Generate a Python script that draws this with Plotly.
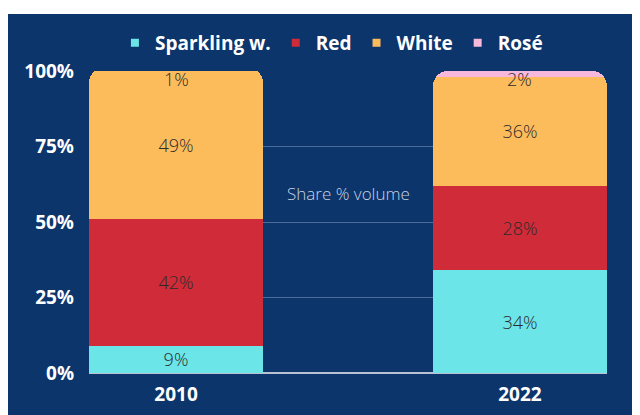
import plotly.graph_objects as go

years = ["2010", "2022"]
series_names = ["Sparkling w.", "Red", "White", "Rosé"]
sparkling = [9, 34]
red = [42, 28]
white = [49, 36]
rose = [1, 2]
y_ticks = [0, 25, 50, 75, 100]
y_tick_labels = ["0%", "25%", "50%", "75%", "100%"]

colors = ["#6be5e8", "#d02b38", "#fdbc5c", "#f7b8dc"]
values = [sparkling, red, white, rose]

BG = "#0c356b"
FONT = "Open Sans"
LABEL_FONT = dict(family=FONT, size=18, color="#2b2b2b", weight=300)

fig = go.Figure()
for name, vals, col in zip(series_names, values, colors):
    show_text = name != "Rosé"
    fig.add_trace(go.Bar(
        x=years, y=vals, name=name, marker=dict(color=col, line=dict(width=0)),
        text=[f"{v}%" for v in vals] if show_text else None,
        textposition="inside" if show_text else "none",
        insidetextanchor="middle", textangle=0,
        textfont=LABEL_FONT, constraintext="none",
        showlegend=False, hoverinfo="skip",
    ))
    fig.add_trace(go.Scatter(
        x=[years[0]], y=[None], mode="markers", name=name,
        marker=dict(symbol="square", size=8, color=col),
        showlegend=True, hoverinfo="skip",
    ))

for i, v in enumerate(rose):
    fig.add_annotation(x=i, xref="x", y=100, yref="y", yanchor="top", yshift=6, text=f"{v}%",
                       showarrow=False, font=LABEL_FONT)

fig.add_annotation(x=0.5, xref="x domain", y=0.593, yref="y domain", text="Share % volume",
                   showarrow=False, font=dict(family=FONT, size=17, color="#c9d2e2", weight=300))

fig.add_shape(type="rect", xref="paper", yref="paper", x0=-0.1564, x1=1.3, y0=-0.4, y1=1.1887,
              fillcolor=BG, line=dict(width=0), layer="below")

fig.update_layout(
    width=640, height=415,
    margin=dict(l=81, r=41, t=63, b=50),
    paper_bgcolor="white", plot_bgcolor="rgba(0,0,0,0)",
    barmode="stack", bargap=0.494, barcornerradius=15,
    showlegend=True,
    legend=dict(orientation="h", x=0.468, xanchor="center", y=1.093, yanchor="middle",
                font=dict(family=FONT, size=19, color="white", weight=700),
                bgcolor="rgba(0,0,0,0)", itemwidth=30, traceorder="normal"),
    xaxis=dict(type="category", range=[-0.253, 1.253], showgrid=False, zeroline=False,
               showline=False, ticks="", tickfont=dict(family=FONT, size=19, color="white", weight=700),
               ticklabelstandoff=8, fixedrange=True),
    yaxis=dict(range=[0, 100], tickvals=y_ticks, ticktext=y_tick_labels, showgrid=True,
               gridcolor="#4b6b9a", gridwidth=1, zeroline=True, zerolinecolor="#b9c2d3", zerolinewidth=1.5,
               tickfont=dict(family=FONT, size=19, color="white", weight=700), ticks="",
               ticklabelstandoff=14, fixedrange=True),
    font=dict(family=FONT),
)

fig.write_html("out.html")
